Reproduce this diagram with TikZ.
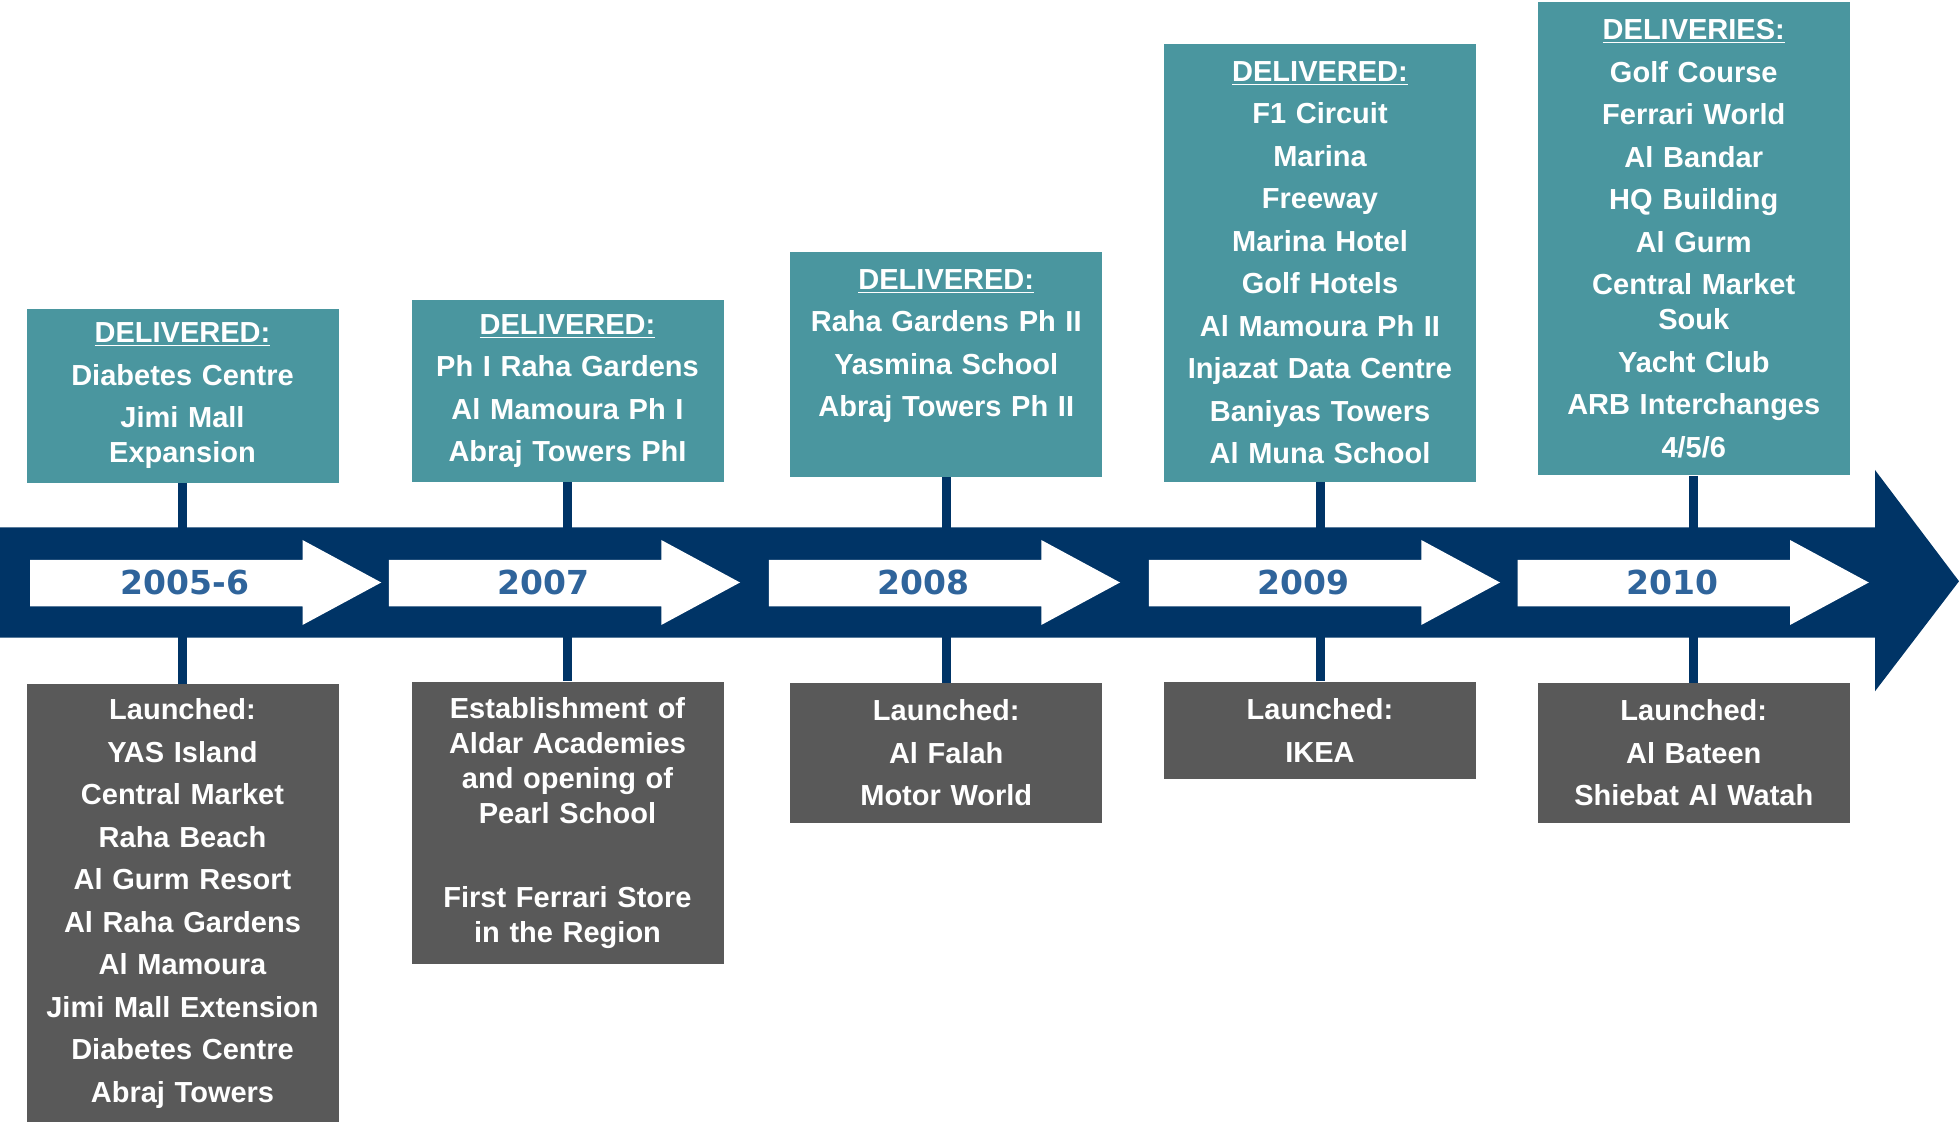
\documentclass[tikz,border=0pt]{standalone}
\usepackage{fontspec}
\setmainfont{Liberation Sans}
\newfontfamily\yearfont{DejaVu Sans}
\usetikzlibrary{positioning}

\definecolor{navy}{HTML}{003466}
\definecolor{tealbox}{HTML}{4A969F}
\definecolor{greybox}{HTML}{595959}
\definecolor{yearblue}{HTML}{2F649B}

\newcommand{\boxfont}{\fontsize{14.5}{21.25}\selectfont\bfseries}

\begin{document}
\begin{tikzpicture}[x=0.625pt,y=-0.625pt,
 delivered/.style={fill=tealbox,text=white,font=\boxfont,align=center,
  minimum width=156pt,text width=150pt,inner xsep=3pt,anchor=north},
 launched/.style={delivered,fill=greybox},
 link/.style={draw=navy,line width=4.5pt},
 year/.style={text=yearblue,font=\yearfont\fontsize{16.5}{18}\selectfont\bfseries}]

  \useasboundingbox (0,0) rectangle (1567.2,897.6);

  % delivered boxes
  \node[delivered,minimum height=86.875pt] (d1) at (146,247)
    {\underline{DELIVERED:}\\Diabetes Centre\\Jimi Mall\\[-3.75pt]Expansion};
  \node[delivered,minimum height=90.625pt] (d2) at (454,240)
    {\underline{DELIVERED:}\\Ph I Raha Gardens\\Al Mamoura Ph I\\Abraj Towers PhI};
  \node[delivered,minimum height=112.5pt] (d3) at (757,201)
    {\underline{DELIVERED:}\\Raha Gardens Ph II\\Yasmina School\\Abraj Towers Ph II\\~};
  \node[delivered,minimum height=218.75pt] (d4) at (1056,35)
    {\underline{DELIVERED:}\\F1 Circuit\\Marina\\Freeway\\Marina Hotel\\Golf Hotels\\
     Al Mamoura Ph II\\Injazat Data Centre\\Baniyas Towers\\Al Muna School};
  \node[delivered,minimum height=236.875pt] (d5) at (1355,1)
    {\underline{DELIVERIES:}\\Golf Course\\Ferrari World\\Al Bandar\\HQ Building\\Al Gurm\\
     Central Market\\[-3.75pt]Souk\\Yacht Club\\ARB Interchanges\\4/5/6};

  % launched boxes
  \node[launched,minimum height=219.375pt] (l1) at (146,547)
    {Launched:\\YAS Island\\Central Market\\Raha Beach\\Al Gurm Resort\\Al Raha Gardens\\
     Al Mamoura\\Jimi Mall Extension\\Diabetes Centre\\Abraj Towers};
  \node[launched,minimum height=141.25pt] (l2) at (454,545)
    {Establishment of\\[-3.75pt]Aldar Academies\\[-3.75pt]and opening of\\[-3.75pt]Pearl School\\[20.6pt]
     First Ferrari Store\\[-3.75pt]in the Region};
  \node[launched,minimum height=70pt] (l3) at (757,546)
    {Launched:\\Al Falah\\Motor World};
  \node[launched,minimum height=48.75pt] (l4) at (1056,545)
    {Launched:\\IKEA};
  \node[launched,minimum height=70pt] (l5) at (1355,546)
    {Launched:\\Al Bateen\\Shiebat Al Watah};

  \foreach \i in {1,...,5}
    \draw[link] (d\i.south) -- (l\i.north);

  % time line
  \fill[navy] (0,422) -- (1500,422) -- (1500,376) -- (1567.2,465)
    -- (1500,553) -- (1500,510) -- (0,510) -- cycle;

  \foreach \x/\yr [count=\i] in {24/2005-6, 311/2007, 615/2008, 919/2009, 1214/2010} {
    \fill[white] (\x,448) -- ++(218,0) -- ++(0,-16) -- ++(63,34)
      -- ++(-63,34) -- ++(0,-15) -- ++(-218,0) -- cycle;
    \node[year] (year\i) at (\x+124,466) {\yr};}

\end{tikzpicture}
\end{document}
